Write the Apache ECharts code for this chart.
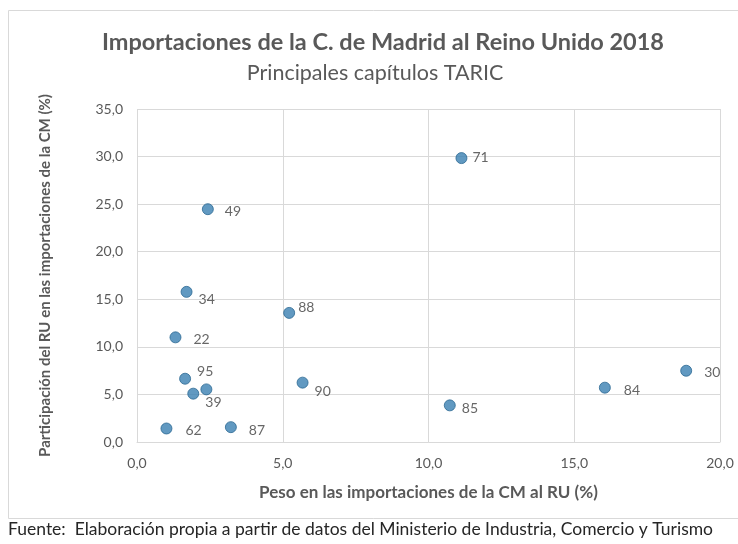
<!DOCTYPE html>
<html>
<head>
<meta charset="utf-8">
<script src="https://cdn.jsdelivr.net/npm/echarts@6/dist/echarts.min.js"></script>
<style>
  html, body { margin: 0; padding: 0; background: #fff; }
  #chart { width: 738px; height: 544px; }
</style>
</head>
<body>
<div id="chart"></div>
<script>
// TARIC chapters (one point has no visible label in the source)
const codes = ['71', '49', '34', '22', '88', '95', '', '39', '90', '62', '87', '85', '84', '30']
// peso en las importaciones de la CM al RU (%)
const peso = [11.13, 2.43, 1.70, 1.32, 5.22, 1.65, 2.38, 1.93, 5.68, 1.01, 3.22, 10.73, 16.05, 18.84]
// participación del RU en las importaciones de la CM (%)
const participacion = [29.84, 24.47, 15.78, 11.0, 13.57, 6.65, 5.53, 5.08, 6.24, 1.42, 1.56, 3.85, 5.71, 7.49]

// manual label nudges, as in the source workbook
const labelNudge = {
  '71': [5, -1], '49': [11, 2], '34': [6, 8], '22': [12, 2], '88': [3, -5],
  '95': [6, -7], '39': [6, 9], '90': [6, 9], '62': [13, 2], '87': [12, 3],
  '85': [6, 3], '84': [13, 3], '30': [12, 2]
}

const FONT = 'Lato, "Open Sans", sans-serif'
const fmt = v => v.toFixed(1).replace('.', ',')

const chart = echarts.init(document.getElementById('chart'))

chart.setOption({
  animation: false,
  textStyle: { fontFamily: FONT },
  title: [
    {
      text: 'Importaciones de la C. de Madrid al Reino Unido 2018',
      left: 378, top: 25, textAlign: 'center',
      textStyle: { fontFamily: FONT, fontSize: 23.5, fontWeight: 'bold', color: '#595959' }
    },
    {
      text: 'Principales capítulos TARIC',
      left: 370, top: 57, textAlign: 'center',
      textStyle: { fontFamily: FONT, fontSize: 21.5, fontWeight: 'normal', color: '#595959' }
    }
  ],
  graphic: [
    {
      type: 'rect',
      shape: { x: 8.5, y: 10.5, width: 740, height: 508 },
      style: { fill: 'none', stroke: '#d9d9d9', lineWidth: 1 },
      z: -1
    },
    {
      type: 'text',
      left: 8, top: 520,
      style: {
        text: 'Fuente:  Elaboración propia a partir de datos del Ministerio de Industria, Comercio y Turismo',
        font: '17.5px ' + FONT,
        fill: '#262626'
      }
    }
  ],
  grid: { left: 137, right: 18, top: 109, bottom: 102 },
  xAxis: {
    type: 'value',
    min: 0, max: 20, interval: 5,
    name: 'Peso en las importaciones de la CM al RU (%)',
    nameLocation: 'middle',
    nameGap: 42,
    nameTextStyle: { fontFamily: FONT, fontSize: 17, fontWeight: 'bold', color: '#595959' },
    axisLine: { show: true, lineStyle: { color: '#d9d9d9' } },
    axisTick: { show: false },
    axisLabel: { formatter: fmt, color: '#595959', fontSize: 14, margin: 14 },
    splitLine: { lineStyle: { color: '#d9d9d9' } }
  },
  yAxis: {
    type: 'value',
    min: 0, max: 35, interval: 5,
    name: 'Participación del RU en las importaciones de la CM (%)',
    nameLocation: 'middle',
    nameGap: 84,
    nameTextStyle: { fontFamily: FONT, fontSize: 15, fontWeight: 'bold', color: '#595959' },
    axisLine: { show: false },
    axisTick: { show: false },
    axisLabel: { formatter: fmt, color: '#595959', fontSize: 14, margin: 14 },
    splitLine: { lineStyle: { color: '#d9d9d9' } }
  },
  series: [{
    type: 'scatter',
    symbolSize: 11,
    itemStyle: { color: '#3a80b2', borderColor: '#2b6892', borderWidth: 1 },
    label: {
      show: true,
      position: 'right',
      distance: 0,
      color: '#404040',
      fontSize: 14,
      fontFamily: FONT,
      formatter: p => p.data.name
    },
    data: codes.map((c, i) => ({
      name: c,
      value: [peso[i], participacion[i]],
      label: { show: c !== '', offset: labelNudge[c] || [0, 0] }
    }))
  }]
})
</script>
</body>
</html>
